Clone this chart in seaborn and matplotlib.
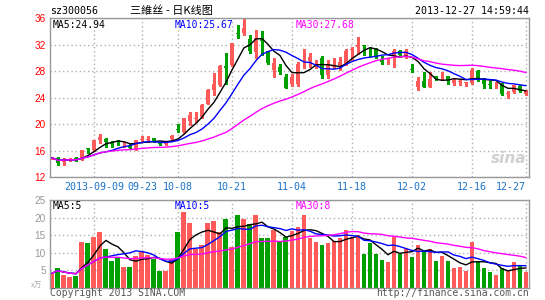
import numpy as np
import pandas as pd
import matplotlib
matplotlib.use("Agg")
import matplotlib.pyplot as plt
import seaborn as sns

# ---------------- data ----------------
opens = [14.85, 14.95, 14.36, 14.57, 14.97, 14.82, 16.38, 16.07, 17.60, 17.70,
         17.20, 17.50, 16.95, 16.75, 16.27, 17.65, 17.65, 17.90, 17.15, 16.95,
         17.70, 19.35, 18.75, 20.45, 20.80, 21.10, 23.10, 25.10, 25.90, 28.80,
         28.90, 33.80, 33.70, 32.90, 30.90, 33.05, 31.00, 28.15, 28.65, 27.14,
         26.10, 26.10, 29.30, 29.55, 28.85, 30.00, 27.40, 28.60, 28.65, 29.10,
         31.25, 31.60, 32.00, 31.50, 31.30, 29.80, 29.45, 30.40, 31.10, 30.20,
         28.35, 25.60, 26.50, 25.60, 27.25, 27.35, 27.25, 26.25, 26.35, 26.20,
         26.25, 28.00, 26.75, 26.05, 25.85, 26.00, 24.55, 24.80, 25.80, 24.60]
highs = [15.05, 15.00, 14.97, 14.90, 15.00, 16.10, 16.45, 17.60, 18.50, 17.85,
         17.45, 17.60, 17.30, 17.05, 17.65, 18.20, 18.20, 17.95, 17.20, 17.20,
         18.30, 20.10, 20.95, 21.85, 21.80, 23.00, 25.25, 27.65, 28.85, 30.80,
         32.25, 34.90, 35.95, 33.40, 34.20, 34.00, 31.10, 29.90, 29.00, 27.50,
         27.50, 29.30, 31.40, 30.80, 29.60, 30.30, 29.66, 29.90, 30.16, 31.40,
         31.70, 33.20, 32.00, 31.60, 31.50, 30.20, 30.00, 31.40, 31.20, 31.40,
         29.00, 27.10, 27.80, 27.80, 27.30, 27.80, 27.30, 26.90, 26.80, 26.40,
         28.40, 28.15, 26.90, 26.50, 26.30, 26.15, 25.00, 25.90, 25.90, 25.10]
lows = [14.75, 13.80, 13.90, 14.50, 14.50, 14.57, 15.70, 16.00, 17.20, 16.60,
        16.60, 16.90, 16.60, 16.30, 16.10, 17.30, 17.30, 17.30, 16.85, 16.85,
        17.60, 18.90, 18.70, 19.85, 20.35, 21.00, 23.00, 24.40, 25.80, 26.10,
        28.80, 33.00, 33.40, 30.80, 29.90, 30.50, 29.10, 27.10, 27.60, 25.40,
        25.80, 25.80, 28.40, 28.60, 28.50, 27.00, 26.90, 28.50, 28.15, 28.90,
        29.70, 30.60, 30.50, 30.20, 29.90, 29.00, 29.00, 28.65, 30.30, 30.00,
        27.90, 25.10, 25.60, 25.60, 26.70, 26.60, 26.00, 25.90, 25.90, 25.80,
        26.10, 26.50, 25.40, 25.40, 25.40, 24.35, 24.00, 24.75, 24.90, 24.40]
closes = [14.95, 14.15, 14.67, 14.82, 14.57, 16.07, 16.28, 17.58, 18.00, 17.35,
          17.05, 17.35, 17.05, 16.45, 17.58, 17.75, 17.75, 17.35, 16.95, 17.10,
          18.25, 19.20, 20.90, 21.35, 20.90, 22.95, 25.20, 26.10, 28.80, 28.50,
          32.20, 33.60, 34.45, 31.00, 33.00, 32.50, 29.20, 29.25, 27.80, 25.50,
          27.14, 29.00, 29.40, 30.17, 28.95, 27.40, 28.90, 28.70, 29.40, 31.10,
          31.35, 32.00, 31.80, 31.35, 30.20, 29.30, 29.55, 31.10, 30.40, 31.10,
          28.20, 26.50, 25.60, 26.80, 26.75, 27.45, 26.65, 26.65, 26.45, 26.30,
          28.15, 26.90, 26.00, 25.95, 25.95, 24.50, 24.65, 25.90, 25.00, 25.00]
volumes = [4.2, 5.6, 3.8, 3.25, 3.5, 13.1, 12.7, 14.6, 16.0, 11.2,
           7.8, 8.9, 6.1, 6.1, 9.2, 10.6, 9.5, 8.2, 4.7, 4.7,
           8.2, 16.0, 21.6, 18.5, 11.1, 12.3, 18.5, 19.1, 15.8, 19.7,
           11.7, 20.8, 19.7, 18.1, 20.8, 14.1, 14.2, 16.5, 13.1, 14.4,
           16.2, 17.2, 20.8, 14.1, 13.2, 12.3, 12.9, 13.4, 14.1, 16.5,
           14.4, 15.1, 9.6, 12.7, 9.6, 8.0, 7.3, 14.6, 9.7, 11.1,
           8.9, 12.3, 10.6, 11.2, 7.6, 9.0, 7.6, 5.6, 5.9, 4.75,
           13.2, 7.8, 5.6, 4.5, 3.8, 5.6, 4.9, 7.3, 6.2, 4.5]
tick_pos = [7, 15, 21, 30, 40, 50, 60, 70, 79]
tick_labels = ["2013-09-09", "09-23", "10-08", "10-21", "11-04", "11-18",
               "12-02", "12-16", "12-27"]
price_ticks = [12, 16, 20, 24, 28, 32, 36]
vol_ticks = [5, 10, 15, 20, 25]

# ---------------- styling ----------------
sns.set_style("white")
plt.rcParams["font.family"] = ["DejaVu Sans", "Noto Sans CJK SC"]

RED = "#ff5a5a"
GREEN = "#00a000"
GRID = "#b0b0b0"
SPINE = "#999999"
MONO = "DejaVu Sans Mono"

df = pd.DataFrame({"open": opens, "high": highs, "low": lows,
                   "close": closes, "vol": volumes})
df["idx"] = np.arange(len(df))
df["dir"] = np.where(df["close"] >= df["open"], "up", "down")
colors = np.where(df["dir"] == "up", RED, GREEN)
for n in (5, 10, 30):
    df[f"ma{n}"] = df["close"].rolling(n, min_periods=1).mean()
    df[f"vma{n}"] = df["vol"].rolling(n, min_periods=1).mean()

W, H = 545, 300
fig = plt.figure(figsize=(W / 100, H / 100), dpi=100)
fig.patch.set_facecolor("white")


def box(l, t, r, b):
    return [l / W, 1 - b / H, (r - l) / W, (b - t) / H]


ax = fig.add_axes(box(50, 18, 529, 177.3))
axv = fig.add_axes(box(50, 200, 529, 288))

xlim = (-0.33, 79.5)

# ---- candles ----
ax.vlines(df["idx"], df["low"], df["high"], colors=colors, lw=1.0, zorder=2,
          antialiased=False)
body = np.maximum((df["close"] - df["open"]).abs(), 0.13)
ax.bar(df["idx"], body, bottom=np.minimum(df["open"], df["close"]),
       width=0.8, color=colors, lw=0, zorder=3, antialiased=False)
for col, c in (("ma5", "black"), ("ma10", "#0000ff"), ("ma30", "#ff00ff")):
    sns.lineplot(x=df["idx"], y=df[col], ax=ax, color=c, lw=1.0, zorder=4)

ax.set_xlim(*xlim)
ax.set_ylim(12, 36)
ax.set_yticks(price_ticks)
ax.set_yticklabels([str(t) for t in price_ticks], color="#ff0000",
                   fontsize=7.2, family="Liberation Sans")
ax.set_xticks(tick_pos)
ax.set_xticklabels(tick_labels, color="#1a73c8", fontsize=7.2, family=MONO)
ax.get_xticklabels()[-1].set_horizontalalignment("right")
ax.tick_params(axis="both", length=0)
ax.tick_params(axis="x", pad=3.5)
ax.tick_params(axis="y", pad=3)
ax.set_xlabel("")
ax.set_ylabel("")
ax.grid(True, color=GRID, lw=1.0, ls=(0, (1, 2)))
ax.set_axisbelow(True)
for s in ax.spines.values():
    s.set_color(SPINE)
    s.set_linewidth(1.0)

ax.text(0.006, 0.985, "MA5:24.94", transform=ax.transAxes, ha="left", va="top",
        fontsize=7, family=MONO, color="black")
ax.text(0.261, 0.985, "MA10:25.67", transform=ax.transAxes, ha="left", va="top",
        fontsize=7, family=MONO, color="#0000ff")
ax.text(0.512, 0.985, "MA30:27.68", transform=ax.transAxes, ha="left", va="top",
        fontsize=7, family=MONO, color="#ff00ff")
ax.text(0.995, 0.12, "sina", transform=ax.transAxes, ha="right", va="center",
        fontsize=11, fontstyle="italic", fontweight="bold", color="#d0d0d0",
        zorder=1)

# ---- volume ----
axv.bar(df["idx"], df["vol"], width=0.83, color=colors, lw=0, zorder=2,
        antialiased=False)
for col, c in (("vma5", "black"), ("vma10", "#0000ff"), ("vma30", "#ff00ff")):
    sns.lineplot(x=df["idx"], y=df[col], ax=axv, color=c, lw=1.0, zorder=4)
axv.set_xlim(*xlim)
axv.set_ylim(0, 25)
axv.set_yticks(vol_ticks)
axv.set_yticklabels([str(t) for t in vol_ticks], color="#999999",
                    fontsize=7.2, family="Liberation Sans")
axv.set_xticks(tick_pos)
axv.set_xticklabels([])
axv.tick_params(axis="both", length=0)
axv.tick_params(axis="y", pad=3)
axv.set_xlabel("")
axv.set_ylabel("")
axv.grid(True, color=GRID, lw=1.0, ls=(0, (1, 2)))
axv.set_axisbelow(True)
for s in axv.spines.values():
    s.set_color(SPINE)
    s.set_linewidth(1.0)
axv.text(0.006, 0.985, "MA5:5", transform=axv.transAxes, ha="left", va="top",
         fontsize=7, family=MONO, color="black")
axv.text(0.261, 0.985, "MA10:5", transform=axv.transAxes, ha="left", va="top",
         fontsize=7, family=MONO, color="#0000ff")
axv.text(0.512, 0.985, "MA30:8", transform=axv.transAxes, ha="left", va="top",
         fontsize=7, family=MONO, color="#ff00ff")

# ---- header / footer text ----
fig.text(50 / W, 1 - 11 / H, "sz300056", ha="left", va="center",
         fontsize=7.2, family=MONO, color="black")
fig.text(171 / W, 1 - 11 / H, "三維丝 - 日K线图", ha="center", va="center",
         fontsize=8, family=["Noto Sans CJK SC", "DejaVu Sans"], color="black")
fig.text(529 / W, 1 - 11 / H, "2013-12-27 14:59:44", ha="right", va="center",
         fontsize=7.2, family=MONO, color="black")
fig.text(37 / W, 1 - 286 / H, "x万", ha="center", va="center", fontsize=5.5,
         family=["Noto Sans CJK SC", "DejaVu Sans"], color="#aaaaaa")
fig.text(50 / W, 1 - 293 / H, "Copyright 2013 SINA.COM", ha="left", va="center",
         fontsize=7, family=MONO, color="#555555")
fig.text(529 / W, 1 - 293 / H, "http://finance.sina.com.cn", ha="right",
         va="center", fontsize=7, family=MONO, color="#555555")

fig.savefig("out.png", dpi=100, facecolor="white")
